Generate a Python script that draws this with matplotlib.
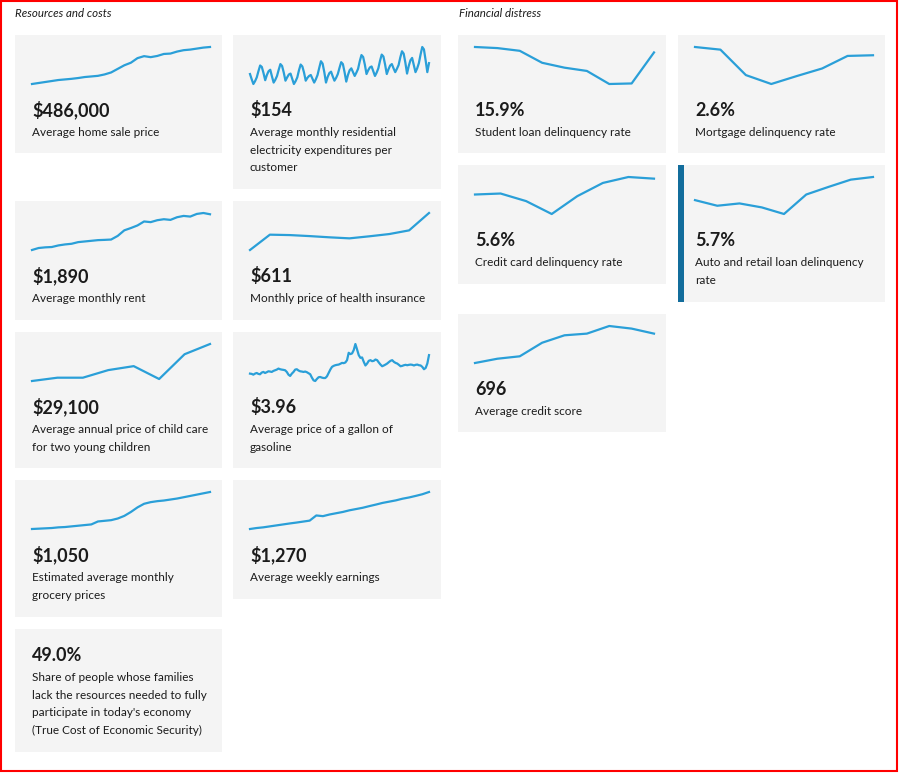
import matplotlib.pyplot as plt
from matplotlib.patches import Rectangle

W, H = 899, 773
LINE = "#2a9fd8"
CARD = "#f4f4f4"
INK = "#1b1b1b"

# sparkline series
home_price = [300, 305, 310, 315, 320, 323, 326, 330, 335, 338, 341, 348, 358, 376,
              394, 407, 430, 440, 435, 441, 451, 453, 463, 470, 473, 478, 483, 486]
electricity = [131, 120, 110, 116, 124, 137, 149, 146, 133, 118, 129, 137,
               140, 126, 113, 119, 127, 140, 152, 148, 134, 117, 124, 130,
               132, 121, 110, 116, 124, 139, 151, 147, 134, 117, 123, 127,
               129, 121, 113, 120, 129, 144, 158, 153, 135, 113, 125, 133,
               136, 126, 117, 123, 131, 144, 156, 152, 135, 115, 129, 139,
               143, 135, 127, 134, 142, 158, 171, 167, 151, 131, 139, 145,
               147, 137, 127, 134, 143, 159, 172, 168, 151, 131, 141, 149,
               152, 143, 135, 142, 150, 166, 179, 174, 155, 132, 148, 160,
               165, 150, 135, 143, 154, 172, 188, 183, 160, 135, 154]
rent = [1350, 1380, 1390, 1395, 1419, 1434, 1444, 1469, 1479, 1489, 1499, 1503, 1508, 1563,
        1647, 1682, 1721, 1781, 1771, 1800, 1815, 1805, 1845, 1865, 1855, 1895, 1909, 1890]
health_ins = [430, 505, 503, 498, 492, 487, 497, 508, 526, 611]
child_care = [20140, 20940, 20940, 22780, 23740, 20620, 26620, 29100]
gasoline = [2.71, 2.69, 2.63, 2.71, 2.76, 2.69, 2.66, 2.79, 2.84, 2.76, 2.82, 2.89,
            2.87, 2.84, 2.92, 2.97, 3.02, 3.10, 3.05, 3.02, 3.00, 2.97, 2.84, 2.63,
            2.53, 2.71, 2.84, 3.02, 3.05, 2.95, 2.89, 2.87, 2.84, 2.87, 2.82, 2.74,
            2.66, 2.40, 2.19, 2.14, 2.30, 2.43, 2.45, 2.40, 2.37, 2.37, 2.50, 2.76,
            3.02, 3.23, 3.31, 3.36, 3.39, 3.41, 3.47, 3.54, 3.52, 3.57, 3.75, 4.32,
            4.22, 4.27, 4.53, 5.00, 4.58, 4.14, 3.93, 3.96, 3.62, 3.34, 3.49, 3.70,
            3.75, 3.67, 3.70, 3.80, 3.75, 3.57, 3.41, 3.28, 3.34, 3.41, 3.49, 3.60,
            3.70, 3.75, 3.62, 3.54, 3.49, 3.39, 3.28, 3.31, 3.36, 3.39, 3.36, 3.39,
            3.41, 3.39, 3.34, 3.39, 3.41, 3.36, 3.34, 3.23, 3.05, 3.15, 3.49, 4.14]
grocery = [711, 714, 717, 720, 726, 729, 735, 741, 747, 753, 780, 786, 792, 807,
           831, 867, 909, 942, 957, 966, 972, 981, 990, 1002, 1014, 1026, 1038, 1050]
earnings = [890, 900, 907, 917, 927, 937, 947, 956, 966, 976, 1029, 1022, 1039, 1052,
            1065, 1082, 1095, 1108, 1125, 1141, 1158, 1171, 1184, 1201, 1214, 1230, 1247, 1270]
student_loan = [16.9, 16.7, 16.2, 14.0, 13.1, 12.5, 10.1, 10.2, 15.9]
mortgage = [2.85, 2.77, 2.00, 1.73, 1.97, 2.20, 2.58, 2.60]
credit_card = [5.12, 5.15, 4.92, 4.53, 5.07, 5.47, 5.65, 5.60]
auto_loan = [5.00, 4.83, 4.90, 4.78, 4.58, 5.17, 5.40, 5.62, 5.70]
credit_score = [680.2, 682.5, 683.8, 691.1, 695.1, 696.0, 700.1, 698.7, 696.0]

sections = ["Resources and costs", "Financial distress"]

headlines = ["$486,000", "$154", "$1,890", "$611", "$29,100", "$3.96", "$1,050", "$1,270",
             "49.0%", "15.9%", "2.6%", "5.6%", "5.7%", "696"]
labels = [
    ["Average home sale price"],
    ["Average monthly residential", "electricity expenditures per", "customer"],
    ["Average monthly rent"],
    ["Monthly price of health insurance"],
    ["Average annual price of child care", "for two young children"],
    ["Average price of a gallon of", "gasoline"],
    ["Estimated average monthly", "grocery prices"],
    ["Average weekly earnings"],
    ["Share of people whose families", "lack the resources needed to fully",
     "participate in today's economy", "(True Cost of Economic Security)"],
    ["Student loan delinquency rate"],
    ["Mortgage delinquency rate"],
    ["Credit card delinquency rate"],
    ["Auto and retail loan delinquency", "rate"],
    ["Average credit score"],
]
series = [home_price, electricity, rent, health_ins, child_care, gasoline, grocery, earnings,
          None, student_loan, mortgage, credit_card, auto_loan, credit_score]

# card layout in pixels: left, right, top, bottom
boxes = [
    (15, 222, 35, 153), (233, 441, 35, 189),
    (15, 222, 201, 320), (233, 441, 201, 320),
    (15, 222, 332, 468), (233, 441, 332, 468),
    (15, 222, 480, 617), (233, 441, 480, 599),
    (15, 222, 629, 752),
    (458, 666, 35, 153), (678, 885, 35, 153),
    (458, 666, 165, 284), (678, 885, 165, 302),
    (458, 666, 314, 432),
]
highlight = 12

fig = plt.figure(figsize=(W / 100, H / 100), dpi=100)
bg = fig.add_axes([0, 0, 1, 1])
bg.set_xlim(0, W)
bg.set_ylim(H, 0)
bg.axis("off")

bg.add_patch(Rectangle((1, 1), W - 3, H - 3, fill=False, edgecolor="#ff0000", lw=1.5))
bg.text(15, 17, sections[0], fontsize=8.3, style="italic", family="Lato", color=INK, va="baseline")
bg.text(459, 17, sections[1], fontsize=8.3, style="italic", family="Lato", color=INK, va="baseline")


def draw_card(i):
    x0, x1, y0, y1 = boxes[i]
    bg.add_patch(Rectangle((x0, y0), x1 - x0, y1 - y0, facecolor=CARD, edgecolor="none"))
    if i == highlight:
        bg.add_patch(Rectangle((x0, y0), 6, y1 - y0, facecolor="#136d9c", edgecolor="none"))
    s = series[i]
    if s is None:
        num_y = y0 + 32
    else:
        num_y = y0 + 81
        ax = fig.add_axes([(x0 + 17) / W, 1 - (y0 + 49) / H, (x1 - x0 - 29) / W, 37 / H])
        ax.plot(range(len(s)), s, color=LINE, lw=1.6, clip_on=False, solid_joinstyle="round")
        ax.set_xlim(0, len(s) - 1)
        ax.set_ylim(min(s), max(s))
        ax.axis("off")
    bg.text(x0 + 17, num_y, headlines[i], fontsize=13, weight="bold", family="Lato",
            color=INK, va="baseline")
    for k, line in enumerate(labels[i]):
        bg.text(x0 + 17, num_y + 20 + 17.7 * k, line, fontsize=8.5, family="Lato",
                color=INK, va="baseline")


for i in range(len(boxes)):
    draw_card(i)

fig.savefig("out.png", dpi=100)
